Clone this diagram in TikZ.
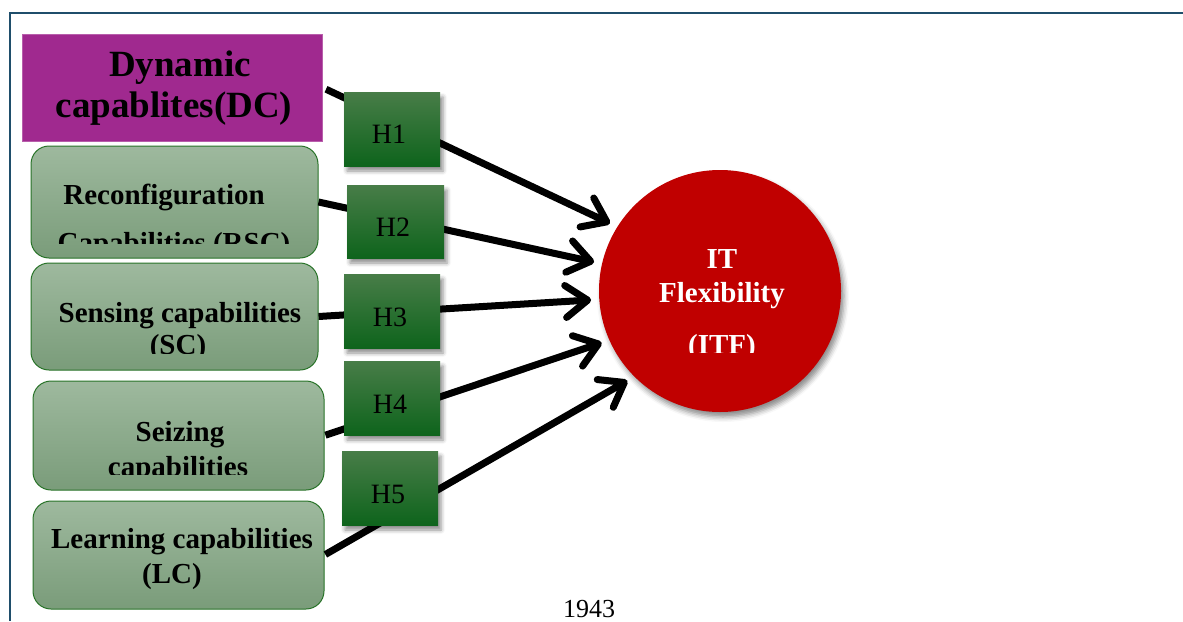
\documentclass[tikz,border=0pt]{standalone}
\usepackage{fontspec}
\setmainfont{Liberation Serif}
\usetikzlibrary{arrows.meta,shadows.blur}
\definecolor{frameblue}{RGB}{31,78,107}
\definecolor{dcmag}{RGB}{160,41,143}
\definecolor{boxtop}{RGB}{158,185,158}
\definecolor{boxbot}{RGB}{122,156,122}
\definecolor{boxedge}{RGB}{40,115,40}
\definecolor{htop}{RGB}{72,125,72}
\definecolor{hbot}{RGB}{14,100,28}
\definecolor{itfred}{RGB}{192,0,0}
\begin{document}
\begin{tikzpicture}[x=1pt,y=-1pt,
  capbox/.style={draw=boxedge, line width=1pt, rounded corners=18pt, top color=boxtop, bottom color=boxbot, inner sep=0pt},
  hbox/.style={top color=htop, bottom color=hbot, minimum width=96pt, minimum height=74pt, inner sep=0pt,
    blur shadow={shadow xshift=3pt, shadow yshift=-5pt, shadow blur radius=4pt, shadow opacity=45}},
  htext/.style={anchor=base, inner sep=0pt, font=\fontsize{28}{30}\selectfont},
  link/.style={line width=7pt, line cap=butt, -{Straight Barb[length=22pt,width=32pt,line cap=round,line join=round]}, shorten >=8pt},
  boxtext/.style={anchor=base, inner sep=0pt, font=\bfseries\fontsize{29}{32}\selectfont},
  dctext/.style={anchor=base, inner sep=0pt, font=\bfseries\fontsize{37}{40}\selectfont},
  itftext/.style={anchor=base, inner sep=0pt, text=white, font=\bfseries\fontsize{29}{32}\selectfont},
]
\useasboundingbox (0,0) rectangle (1183,621);
% frame
\draw[frameblue, line width=2pt] (9.5,621) -- (9.5,13) -- (1183,13);

% source boxes
\node[draw=dcmag!75!white, line width=0.8pt, fill=dcmag, minimum width=300pt, minimum height=107pt, inner sep=0pt] (dc) at (172,87.5) {};
\node[dctext] (dc1) at (180,76) {Dynamic};
\node[dctext] (dc2) at (174,117) {capablites(DC)};

\node[capbox, minimum width=287pt, minimum height=112pt] (rc) at (174.5,202) {};
\begin{scope}
\clip (31,146) rectangle (318,243);
\node[boxtext] (rc1) at (164,204) {Reconfiguration};
\node[boxtext] (rc2) at (174,252) {Capabilities (RSC)};
\end{scope}

\node[capbox, minimum width=287pt, minimum height=107pt] (sc) at (174.5,316.5) {};
\begin{scope}
\clip (31,263) rectangle (318,353);
\node[boxtext] (sc1) at (180,322) {Sensing capabilities};
\node[boxtext] (sc2) at (178,354) {(SC)};
\end{scope}

\node[capbox, minimum width=291pt, minimum height=109pt] (zc) at (178.5,435.5) {};
\begin{scope}
\clip (33,381) rectangle (324,474);
\node[boxtext] (zc1) at (180,441) {Seizing};
\node[boxtext] (zc2) at (178,476) {capabilities};
\end{scope}

\node[capbox, minimum width=291pt, minimum height=108pt] (lc) at (178.5,555) {};
\node[boxtext] (lc1) at (182,548) {Learning capabilities};
\node[boxtext] (lc2) at (172,583) {(LC)};

% target circle
\node[circle, fill=itfred, minimum size=242pt, inner sep=0pt,
  blur shadow={shadow xshift=3pt, shadow yshift=-5pt, shadow blur radius=5pt, shadow opacity=45}] (itf) at (720,291) {};
\begin{scope}
\clip (600,170) rectangle (840,352);
\node[itftext] (itf1) at (722,268) {IT};
\node[itftext] (itf2) at (722,302) {Flexibility};
\node[itftext] (itf3) at (722,354) {(ITF)};
\end{scope}

% connectors
\draw[link, shorten <=4pt] (dc.east) -- (itf.148);
\draw[link] (rc.east) -- (itf.167);
\draw[link] (sc.east) -- (itf.184);
\draw[link, shorten <=1pt] (zc.east) -- (itf.204);
\draw[link, shorten <=1pt] (lc.east) -- (itf.225);

% hypothesis boxes
\node[hbox] (h1) at (392,129) {};
\node[htext] (h1t) at (389,143) {H1};
\node[hbox, minimum width=97pt, minimum height=73pt] (h2) at (395.5,221.5) {};
\node[htext] (h2t) at (393,236) {H2};
\node[hbox] (h3) at (392,311) {};
\node[htext] (h3t) at (390,326) {H3};
\node[hbox] (h4) at (392,398) {};
\node[htext] (h4t) at (390,413) {H4};
\node[hbox] (h5) at (390,488) {};
\node[htext] (h5t) at (388,503) {H5};

% page number
\node[anchor=base, inner sep=0pt, font=\fontsize{26}{28}\selectfont] (pg) at (589,617) {1943};
\end{tikzpicture}
\end{document}
